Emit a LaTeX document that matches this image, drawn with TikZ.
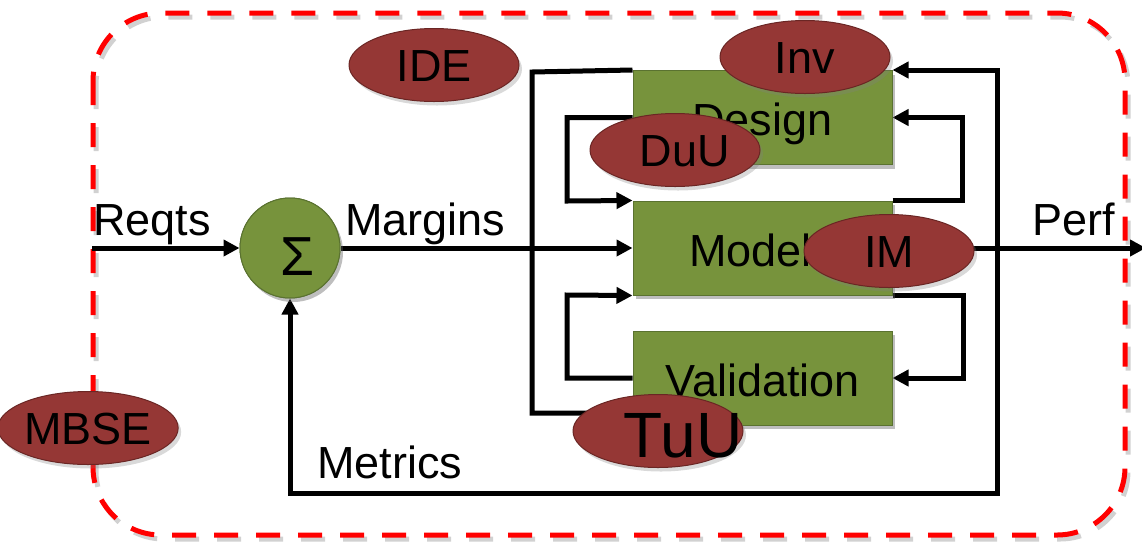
\documentclass[tikz,border=0pt]{standalone}
\usepackage{fontspec}
\setmainfont{Liberation Sans}
\usetikzlibrary{arrows.meta,shapes.geometric,shadows}
\definecolor{boxgreen}{HTML}{77933C}
\definecolor{boxedge}{HTML}{5A7230}
\definecolor{ovalred}{HTML}{953735}
\definecolor{ovaledge}{HTML}{6A2624}
\begin{document}
\begin{tikzpicture}[x=1pt,y=-1pt,
  lbl/.style={font=\fontsize{45}{54}\selectfont, inner sep=0pt},
  wire/.style={line width=5pt, black},
  arr/.style={wire, -{Triangle[length=16pt,width=16pt]}},
  shad/.style={drop shadow={opacity=0.3, shadow xshift=3pt, shadow yshift=-4pt}},
  block/.style={draw=boxedge, line width=1pt, fill=boxgreen, shad,
    minimum width=259pt, minimum height=94pt, inner sep=0pt,
    font=\fontsize{45}{54}\selectfont, text height=36pt, text depth=0pt},
  sumc/.style={circle, draw=boxedge, line width=1pt, fill=boxgreen, shad,
    minimum size=100pt, inner sep=0pt},
  oval/.style={ellipse, draw=ovaledge, line width=1pt, fill=ovalred, shad,
    minimum width=170pt, minimum height=73pt, inner sep=0pt,
    font=\fontsize{45}{54}\selectfont, text height=32pt, text depth=0pt},
  frameline/.style={line width=5pt, dash pattern=on 24pt off 18pt, rounded corners=68pt}
]
\useasboundingbox (0,0) rectangle (1142,542);

% dashed frame with soft shadow
\draw[frameline, black, opacity=0.18] (96,17) rectangle (1128,539);
\draw[frameline, red] (93,13) rectangle (1125,535);

% node positions
\node[sumc] (sum) at (290,248) {};
\coordinate (in) at (92,248);
\coordinate (out) at (1146,248);
\coordinate (tap) at (997,248);
\coordinate (mb) at (290,493);

% connectors (below the blocks)
\path (762.5,117.5) coordinate (dc) (762.5,248) coordinate (mc) (762.5,378) coordinate (vc);
\node[block, draw=none, fill=none, drop shadow={opacity=0}] (design) at (dc) {};
\node[block, draw=none, fill=none, drop shadow={opacity=0}] (model) at (mc) {};
\node[block, draw=none, fill=none, drop shadow={opacity=0}] (val) at (vc) {};

\draw[arr] (in) -- (sum.west);
\draw[arr] (sum.east) -- (model.west);
\draw[wire] (val.west |- 0,413) -| (532,72) -- (design.north west);
\draw[arr] (design.west) -| (567,201) -- (model.north west);
\draw[arr] (val.west) -| (567,295) -- (model.south west);
\draw[arr] (model.north east) -| (962,117.5) -- (design.east);
\draw[arr] (model.south east) -| (963,378) -- (val.east);
\draw[arr] (model.east) -- (out);
\draw[arr] (tap) |- (design.north east);
\draw[arr] (tap) |- (mb) -- (sum.south);

% blocks
\node[block] at (dc) {Design};
\node[block] at (mc) {Model\hspace*{24pt}};
\node[block] at (vc) {Validation};
\node[sumc, label={[font=\fontsize{55}{60}\selectfont, inner sep=0pt, xshift=7pt, yshift=-9pt]center:Σ}] at (sum) {};

% labels
\node[lbl, anchor=base west] (lreq) at (93,235) {Reqts};
\node[lbl, anchor=base west] (lmar) at (345,235) {Margins};
\node[lbl, anchor=base west] (lperf) at (1032,235) {Perf};
\node[lbl, anchor=base west] (lmet) at (317,478) {Metrics};

% ovals
\node[oval] (ide) at (434,65) {IDE};
\node[oval] (inv) at (805,57) {Inv};
\node[oval] (duu) at (675,150) {\hspace*{20pt}DuU};
\node[oval] (im) at (889,251) {IM};
\node[oval, label={[font=\fontsize{64}{70}\selectfont, inner sep=0pt, xshift=25pt, yshift=-5pt]center:TuU}] (tuu) at (658,431) {};
\node[oval] (mbse) at (88,428) {MBSE};
\end{tikzpicture}
\end{document}
